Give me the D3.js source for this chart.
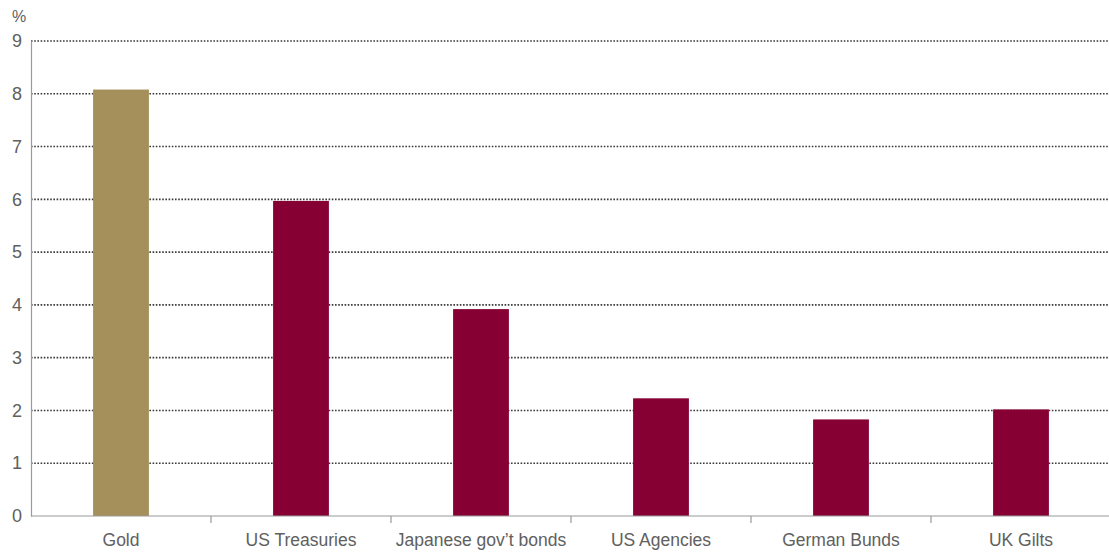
<!DOCTYPE html>
<html>
<head>
<meta charset="utf-8">
<script src="https://cdn.jsdelivr.net/npm/d3@7"></script>
<style>
  html, body { margin: 0; padding: 0; background: #ffffff; }
  svg text { font-family: "Liberation Sans", "Helvetica Neue", Arial, sans-serif; fill: #606060; }
</style>
</head>
<body>
<svg id="chart" width="1109" height="553"></svg>
<script>
// Categories and their values (%)
const categories = ["Gold", "US Treasuries", "Japanese gov\u2019t bonds", "US Agencies", "German Bunds", "UK Gilts"];
const values = [8.08, 5.97, 3.92, 2.23, 1.83, 2.02];
const yTicks = [0, 1, 2, 3, 4, 5, 6, 7, 8, 9];
const unitLabel = "%";

const svg = d3.select("#chart");
const margin = { left: 31, right: -2, top: 41, bottom: 37 };
const W = 1109, H = 553;

// Narrow bars centred in each category band
const x = d3.scaleBand()
  .domain(categories)
  .range([margin.left, W - margin.right])
  .paddingInner(0.69)
  .paddingOuter(0.345);

// Full-width bands for tick boundaries and label centres
const bands = d3.scaleBand().domain(categories).range([margin.left, W - margin.right]);

const y = d3.scaleLinear().domain([0, 9]).range([H - margin.bottom, margin.top]);

// Dotted horizontal gridlines
svg.append("g")
  .selectAll("line")
  .data(yTicks.filter(d => d > 0))
  .join("line")
  .attr("x1", margin.left)
  .attr("x2", W)
  .attr("y1", d => y(d))
  .attr("y2", d => y(d))
  .attr("stroke", "#3a3a3a")
  .attr("stroke-width", 1.6)
  .attr("stroke-dasharray", "1.6,1.6");

// Bars
svg.append("g")
  .selectAll("rect")
  .data(categories)
  .join("rect")
  .attr("x", d => x(d))
  .attr("width", x.bandwidth())
  .attr("y", (d, i) => y(values[i]))
  .attr("height", (d, i) => y(0) - y(values[i]))
  .attr("fill", (d, i) => i === 0 ? "#a58f5a" : "#860033");

// Y axis
const yAxis = svg.append("g")
  .attr("transform", `translate(${margin.left},0)`)
  .call(d3.axisLeft(y).tickValues(yTicks).tickSize(0).tickPadding(9));
yAxis.select(".domain").attr("stroke", "#9a9a9a").attr("stroke-width", 1.2);
yAxis.selectAll("text").attr("font-size", 18);

// X axis with ticks at band boundaries
const xAxisG = svg.append("g").attr("transform", `translate(0,${y(0)})`);
xAxisG.append("line")
  .attr("x1", margin.left).attr("x2", W)
  .attr("stroke", "#9a9a9a").attr("stroke-width", 1.2);
xAxisG.selectAll("line.tick")
  .data(categories.slice(1))
  .join("line")
  .attr("class", "tick")
  .attr("x1", d => bands(d)).attr("x2", d => bands(d))
  .attr("y1", 0).attr("y2", 7)
  .attr("stroke", "#9a9a9a").attr("stroke-width", 1.2);
xAxisG.selectAll("text")
  .data(categories)
  .join("text")
  .attr("x", d => bands(d) + bands.bandwidth() / 2)
  .attr("y", 30)
  .attr("text-anchor", "middle")
  .attr("font-size", 17.5)
  .text(d => d);

// Unit label
svg.append("text")
  .attr("x", 12)
  .attr("y", 22)
  .attr("font-size", 16)
  .text(unitLabel);
</script>
</body>
</html>
